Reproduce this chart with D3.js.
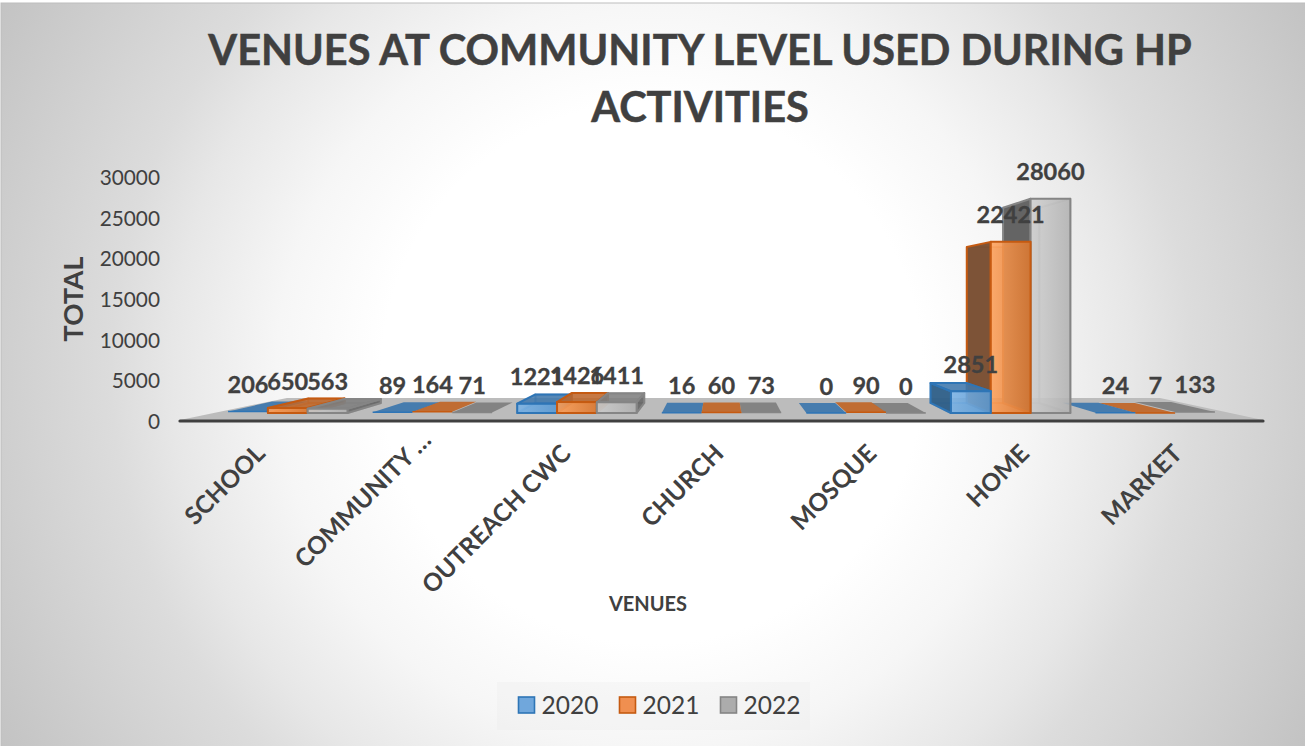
<!DOCTYPE html>
<html>
<head>
<meta charset="utf-8">
<title>Venues at community level</title>
<script src="https://cdn.jsdelivr.net/npm/d3@7/dist/d3.min.js"></script>
<style>
html, body { margin: 0; padding: 0; background: #fff; }
svg { display: block; }
text { font-family: Lato, "Open Sans", sans-serif; fill: #404040; }
</style>
</head>
<body>
<div id="chart"></div>
<script>
// Values per venue and year
const categories = ["SCHOOL", "COMMUNITY …", "OUTREACH CWC", "CHURCH", "MOSQUE", "HOME", "MARKET"];
const years = ["2020", "2021", "2022"];
const values2020 = [206, 89, 1221, 16, 0, 2851, 24];
const values2021 = [650, 164, 1426, 60, 90, 22421, 7];
const values2022 = [563, 71, 1411, 73, 0, 28060, 133];
const yTicks = [0, 5000, 10000, 15000, 20000, 25000, 30000];
const titleLines = ["VENUES AT COMMUNITY LEVEL USED DURING HP", "ACTIVITIES"];

const seriesValues = [values2020, values2021, values2022];

const W = 1305, H = 746;
const svg = d3.select("#chart").append("svg").attr("width", W).attr("height", H);
const defs = svg.append("defs");

// Per-series colours for the 3D column faces
const palette = [
  { stroke: "#2e75b6", light: "#7db4e6", dark: "#5b9bd5", side: "#2f5f88", top: "#3f78ad", swatch: "#70a7dc" },
  { stroke: "#c55a11", light: "#ffa25c", dark: "#dc7830", side: "#774c2e", top: "#c0672a", swatch: "#f08f50" },
  { stroke: "#858585", light: "#cfcfcf", dark: "#b2b2b2", side: "#5e5e5e", top: "#808080", swatch: "#acacac" }
];

// Page background: soft circular glow around the middle of the page
const bg = defs.append("radialGradient").attr("id", "bgGlow")
  .attr("gradientUnits", "userSpaceOnUse")
  .attr("cx", 652).attr("cy", 373).attr("r", 751);
[[0, "#ffffff"], [0.36, "#ffffff"], [0.5, "#f6f6f6"], [0.64, "#e7e7e7"], [0.72, "#dcdcdc"], [1, "#c3c3c3"]].forEach(([o, c]) =>
  bg.append("stop").attr("offset", o).attr("stop-color", c));

palette.forEach((p, i) => {
  const g = defs.append("linearGradient").attr("id", "front" + i)
    .attr("x1", 0).attr("x2", 1).attr("y1", 0).attr("y2", 0);
  g.append("stop").attr("offset", 0).attr("stop-color", p.light);
  g.append("stop").attr("offset", 1).attr("stop-color", p.dark);
});

svg.append("rect").attr("x", 1).attr("y", 3).attr("width", W).attr("height", H)
  .attr("fill", "url(#bgGlow)").attr("stroke", "#bdbdbd").attr("stroke-width", 1);

// Scales
const axisY = d3.scaleLinear().domain([0, 30000]).range([422, 178]);
const barY = d3.scaleLinear().domain([0, 30000]).range([413, 184]);
const labelBand = d3.scaleBand().domain(categories).range([181, 1251]);
const groupBand = d3.scaleBand().domain(categories).range([215.5, 1227.5])
  .paddingInner(0.174).paddingOuter(0.087);
const yearBand = d3.scaleBand().domain(years).range([0, groupBand.bandwidth()]);

// Perspective: rear of each column shrinks toward the vanishing point
const vp = [722, 300], depthRatio = 0.911;
const toBack = ([x, y]) => [vp[0] + (x - vp[0]) * depthRatio, vp[1] + (y - vp[1]) * depthRatio];
const poly = pts => d3.line()(pts) + "Z";

// Floor of the plot
svg.append("path")
  .attr("d", poly([[180, 420], [1263, 420], [1160, 398], [287, 398]]))
  .attr("fill", "#bcbcbc");

const bars = [];
categories.forEach((c, ci) => {
  years.forEach((yr, si) => {
    const x0 = groupBand(c) + yearBand(yr);
    bars.push({ c, si, x0, x1: x0 + yearBand.bandwidth(), value: seriesValues[si][ci] });
  });
});

// Columns farther from the centre are painted first
bars.sort((a, b) => Math.abs((b.x0 + b.x1) / 2 - vp[0]) - Math.abs((a.x0 + a.x1) / 2 - vp[0]));

const barLayer = svg.append("g");
bars.forEach(b => {
  const p = palette[b.si];
  const yb = barY(0), yt = barY(b.value);
  const fl = [b.x0, yb], fr = [b.x1, yb], tl = [b.x0, yt], tr = [b.x1, yt];
  const [bfl, bfr, btl, btr] = [fl, fr, tl, tr].map(toBack);
  const g = barLayer.append("g").attr("stroke", p.stroke).attr("stroke-width", 2).attr("stroke-linejoin", "round");
  const flat = yb - yt < 3;
  const face = (pts, fill, op, sw) => g.append("path").attr("d", poly(pts)).attr("fill", fill)
    .attr("fill-opacity", op).attr("stroke-opacity", sw);

  if (flat) {
    // Near-zero values read as a thin tile on the floor
    g.append("path").attr("d", poly([tl, tr, btr, btl])).attr("fill", p.top).attr("stroke", "none").attr("fill-opacity", 0.95);
    g.append("path").attr("d", d3.line()([tl, tr])).attr("fill", "none").attr("stroke-width", 1.4);
    return;
  }
  const leftVisible = b.x0 > vp[0];
  face([bfl, bfr, btr, btl], p.side, 0.18, 0.35);                 // rear wall
  face([fl, fr, bfr, bfl], p.top, 0.35, 0.35);                    // base
  if (leftVisible) face([fr, tr, btr, bfr], p.side, 0.05, 0.35);  // far side, seen through the front
  else face([fl, tl, btl, bfl], p.side, 0.05, 0.35);
  if (leftVisible) face([fl, tl, btl, bfl], p.side, 0.95, 1);     // near side
  else face([fr, tr, btr, bfr], p.side, 0.75, 1);
  if (yt > vp[1]) face([tl, tr, btr, btl], p.top, 0.85, 1);       // lid, when seen from above
  face([fl, fr, tr, tl], `url(#front${b.si})`, 0.88, 1);          // front
});

// Axis line along the front of the floor
svg.append("line").attr("x1", 180).attr("x2", 1263).attr("y1", 421).attr("y2", 421)
  .attr("stroke", "#404040").attr("stroke-width", 3.2).attr("stroke-linecap", "round");

// Value labels above the columns
svg.append("g").selectAll("text").data(bars).join("text")
  .attr("x", d => (d.x0 + d.x1) / 2)
  .attr("y", d => barY(d.value) - 18.5)
  .attr("text-anchor", "middle")
  .attr("font-size", 23.5).attr("font-weight", 700)
  .style("stroke", "#404040").style("stroke-width", 0.3)
  .text(d => d.value);

// Value axis
const yAxis = svg.append("g").attr("transform", "translate(160,0)")
  .call(d3.axisLeft(axisY).tickValues(yTicks).tickFormat(d3.format("d")).tickSize(0).tickPadding(0));
yAxis.select(".domain").remove();
yAxis.selectAll("text").attr("font-size", 20.8).style("font-family", "Lato, 'Open Sans', sans-serif").attr("fill", "#404040");

// Category labels, slanted; a truncated label runs further along its slant
svg.append("g").selectAll("text").data(categories).join("text")
  .attr("text-anchor", "end")
  .attr("font-size", 24.5).attr("font-weight", 700)
  .attr("dx", d => d.endsWith("…") ? 19 : 0)
  .attr("transform", d => `translate(${labelBand(d) + labelBand.bandwidth() / 2 + 9},${455}) rotate(-45)`)
  .text(d => d);

// Title
svg.append("g").selectAll("text").data(titleLines).join("text")
  .attr("x", 700).attr("y", (d, i) => 65 + i * 57)
  .attr("text-anchor", "middle")
  .attr("font-size", 41.5).attr("font-weight", 700)
  .style("stroke", "#404040").style("stroke-width", 0.5)
  .text(d => d);

// Axis titles
svg.append("text").attr("x", 648).attr("y", 611).attr("text-anchor", "middle")
  .attr("font-size", 20).attr("font-weight", 700).text("VENUES");
svg.append("text").attr("transform", "translate(83,299) rotate(-90)").attr("text-anchor", "middle")
  .attr("font-size", 27.5).attr("font-weight", 700).text("TOTAL");

// Legend
svg.append("rect").attr("x", 497).attr("y", 682).attr("width", 313).attr("height", 48)
  .attr("fill", "#e6e6e6").attr("fill-opacity", 0.25);
const legendX = d3.scalePoint().domain(years).range([518.5, 720.5]);
const legend = svg.append("g").selectAll("g").data(years).join("g")
  .attr("transform", d => `translate(${legendX(d)},697)`);
legend.append("rect").attr("width", 16).attr("height", 16)
  .attr("fill", (d, i) => palette[i].swatch)
  .attr("stroke", (d, i) => palette[i].stroke).attr("stroke-width", 1.6);
legend.append("text").attr("x", 23).attr("y", 16.5).attr("font-size", 24.5).text(d => d);
</script>
</body>
</html>
